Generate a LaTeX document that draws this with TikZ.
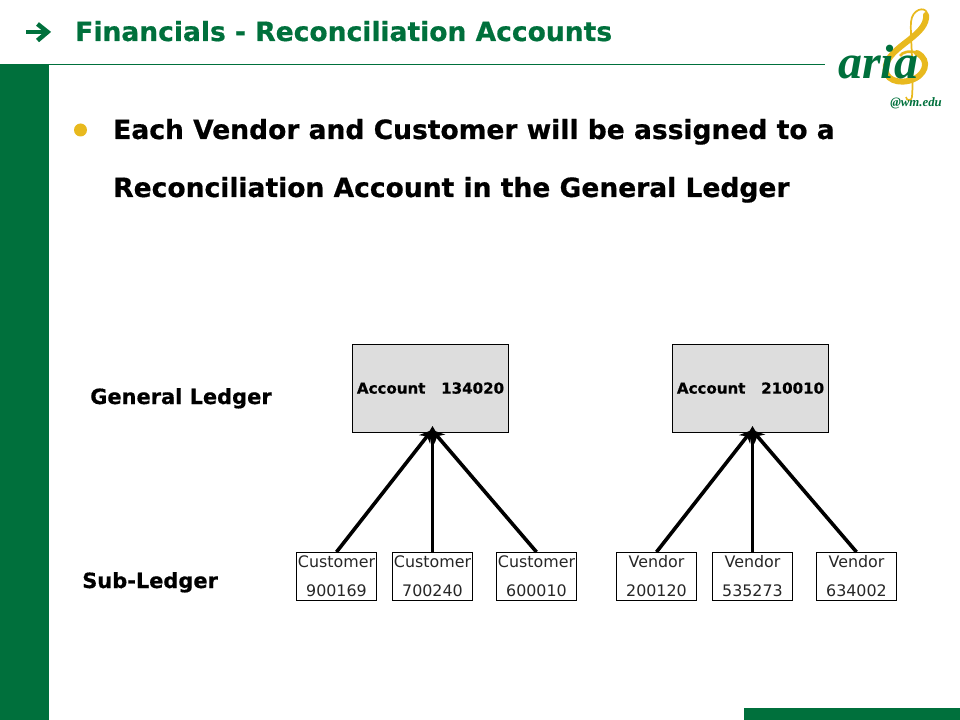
\documentclass[tikz,border=0pt]{standalone}
\usepackage{fontspec}
\setmainfont{DejaVu Sans}[BoldFeatures={FakeBold=0.6}]
\newfontfamily\logofont{Liberation Serif}
\usetikzlibrary{arrows.meta}
\definecolor{ariagreen}{HTML}{00703C}
\definecolor{ariagold}{HTML}{E8B91E}
\definecolor{boxgray}{HTML}{DDDDDD}
\tikzset{
  x=0.75pt,y=-0.75pt,
  titletext/.style={anchor=base west,inner sep=0,text=ariagreen,font=\fontsize{19.9pt}{22pt}\selectfont\bfseries},
  bodytext/.style={anchor=base west,inner sep=0,text=black,font=\fontsize{19.9pt}{23pt}\selectfont\bfseries},
  sidelabel/.style={anchor=base west,inner sep=0,text=black,font=\fontsize{15.7pt}{18pt}\selectfont\bfseries},
  accountbox/.style={draw=black,line width=0.75pt,fill=boxgray,minimum width=117pt,minimum height=66pt,inner sep=0,font=\fontsize{11.3pt}{14pt}\selectfont\bfseries},
  leafbox/.style={draw=black,line width=0.75pt,fill=white,minimum width=60pt,minimum height=36pt,inner sep=0,align=center,font=\fontsize{11.9pt}{21.75pt}\selectfont,text=black!85},
  link/.style={line width=2.7pt,-{Stealth[length=9pt,width=10.5pt]},black},
}
\begin{document}
\begin{tikzpicture}
\useasboundingbox (0,0) rectangle (960,720);
% frame
\fill[ariagreen] (0,65) rectangle (49,720);
\fill[ariagreen] (744,708) rectangle (960,720);
\draw[ariagreen,line width=0.75pt] (0,65) -- (825,65);
% title arrow
\draw[ariagreen,line width=3.2pt] (26,32) -- (47,32);
\draw[ariagreen,line width=3.4pt] (37.5,24) -- (47.5,32) -- (37.5,40.5);
\node[titletext] (title) at (75,41) {Financials - Reconciliation Accounts};
% bullet text
\fill[ariagold] (80.5,130) circle (6.5);
\node[bodytext] (line1) at (113,139) {Each Vendor and Customer will be assigned to a};
\node[bodytext] (line2) at (113,197) {Reconciliation Account in the General Ledger};
% logo
\draw[ariagold,line width=1.3pt] (912,97) .. controls (914,70) and (910,35) .. (911,22) .. controls (912,9) and (925,6) .. (927,13);
\draw[ariagold,line width=4.5pt,line cap=round] (926,15) .. controls (928,33) and (897,44) .. (888,60) .. controls (880,76) and (893,84) .. (908,81) .. controls (926,77) and (931,60) .. (917,53);
\draw[ariagold,line width=2pt] (917,53) .. controls (910,50) and (902,52) .. (900,56);
\draw[ariagold,line width=1.2pt] (912,97) .. controls (912,101) and (906,101) .. (906,97);
\node[anchor=base west,inner sep=0,text=ariagreen,font=\logofont\fontsize{36pt}{40pt}\selectfont\itshape\bfseries] (logo) at (838,79) {aria};
\node[anchor=base west,inner sep=0,text=ariagreen,font=\logofont\fontsize{9.6pt}{11pt}\selectfont\itshape\bfseries] (logomail) at (890,106.5) {@wm.edu};
% labels
\node[sidelabel] (gl) at (90,404) {General Ledger};
\node[sidelabel] (sl) at (82,588) {Sub-Ledger};
% accounts
\node[accountbox] (a1) at (430.5,388.5) {\raisebox{0.75pt}{Account\ \ \ 134020}};
\node[accountbox] (a2) at (750.5,388.5) {\raisebox{0.75pt}{Account\ \ \ 210010}};
% leaves
\node[leafbox] (c1) at (336.5,576.5) {Customer\\900169};
\node[leafbox] (c2) at (432.5,576.5) {Customer\\700240};
\node[leafbox] (c3) at (536.5,576.5) {Customer\\600010};
\node[leafbox] (v1) at (656.5,576.5) {Vendor\\200120};
\node[leafbox] (v2) at (752.5,576.5) {Vendor\\535273};
\node[leafbox] (v3) at (856.5,576.5) {Vendor\\634002};
% connectors
\coordinate (t1) at ([shift={(2,-7)}]a1.south);
\coordinate (t2) at ([shift={(2,-7)}]a2.south);
\coordinate (d1) at ([shift={(1.5,-3)}]a1.south);
\coordinate (d2) at ([shift={(1.5,-3)}]a2.south);
\draw[link] (c1.north) -- (d1);
\draw[link] (c3.north) -- (d1);
\draw[link] (c2.north) -- (t1);
\draw[link] (v1.north) -- (d2);
\draw[link] (v3.north) -- (d2);
\draw[link] (v2.north) -- (t2);
\end{tikzpicture}
\end{document}
